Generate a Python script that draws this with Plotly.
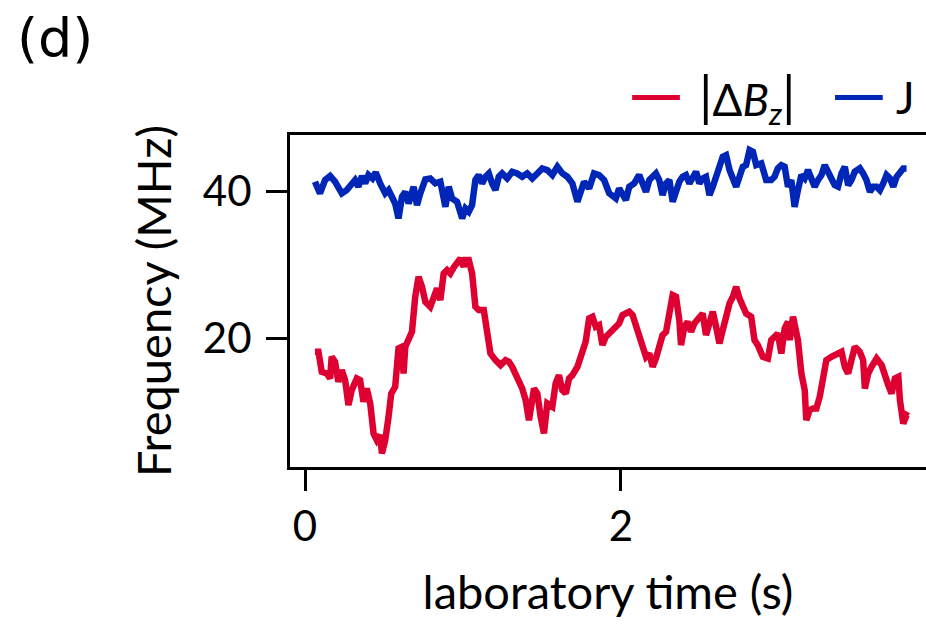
import plotly.graph_objects as go

# Exchange coupling J (MHz) versus laboratory time (s)
t_j = [0.063, 0.095, 0.127, 0.159, 0.190, 0.233, 0.264, 0.296, 0.317, 0.338,
       0.360, 0.381, 0.402, 0.427, 0.448, 0.476, 0.508, 0.529, 0.550, 0.571,
       0.592, 0.614, 0.635, 0.656, 0.688, 0.709, 0.730, 0.762, 0.793, 0.825,
       0.857, 0.889, 0.910, 0.931, 0.963, 0.995, 1.016, 1.037, 1.058, 1.079,
       1.100, 1.121, 1.143, 1.164, 1.185, 1.206, 1.227, 1.248, 1.280, 1.312,
       1.344, 1.375, 1.407, 1.439, 1.471, 1.502, 1.534, 1.566, 1.598, 1.630,
       1.661, 1.693, 1.725, 1.746, 1.767, 1.799, 1.830, 1.862, 1.894, 1.926,
       1.947, 1.968, 1.989, 2.010, 2.032, 2.053, 2.084, 2.116, 2.137, 2.159,
       2.180, 2.201, 2.222, 2.243, 2.264, 2.286, 2.307, 2.328, 2.349, 2.370,
       2.391, 2.412, 2.434, 2.455, 2.476, 2.497, 2.518, 2.539, 2.561, 2.582,
       2.603, 2.624, 2.645, 2.666, 2.688, 2.709, 2.730, 2.751, 2.772, 2.793,
       2.815, 2.836, 2.857, 2.889, 2.920, 2.952, 2.973, 2.994, 3.016, 3.037,
       3.058, 3.079, 3.100, 3.121, 3.143, 3.164, 3.185, 3.206, 3.227, 3.248,
       3.270, 3.291, 3.312, 3.333, 3.354, 3.375, 3.397, 3.418, 3.439, 3.460,
       3.481, 3.513, 3.534, 3.555, 3.577, 3.598, 3.619, 3.640, 3.661, 3.682,
       3.704, 3.725, 3.746, 3.767, 3.788, 3.809]
j_mhz = [41.37, 39.78, 41.60, 42.14, 41.37, 39.78, 40.23, 40.91, 41.60, 40.69,
         42.14, 41.14, 42.28, 41.82, 42.64, 41.14, 39.78, 40.23, 39.32, 38.41,
         36.37, 39.32, 40.00, 38.41, 40.69, 38.19, 39.78, 41.69, 41.82, 41.14,
         41.37, 37.96, 40.69, 39.10, 38.64, 36.37, 37.73, 37.28, 38.19, 41.60,
         42.28, 41.14, 42.05, 42.50, 41.14, 40.23, 42.05, 42.50, 41.82, 42.73,
         42.50, 42.05, 42.50, 41.82, 42.50, 43.19, 42.96, 42.28, 43.41, 42.50,
         42.05, 41.14, 38.64, 40.23, 41.37, 40.46, 42.50, 42.28, 41.60, 39.80,
         39.55, 39.10, 40.46, 39.78, 38.87, 40.69, 41.14, 42.28, 41.14, 40.00,
         41.60, 42.05, 42.50, 41.60, 39.55, 41.14, 41.60, 38.64, 40.23, 41.37,
         42.05, 42.28, 41.14, 42.05, 42.73, 41.14, 41.82, 42.05, 39.55, 40.69,
         42.50, 43.41, 44.78, 45.00, 42.96, 42.05, 40.69, 42.05, 43.41, 43.64,
         45.69, 45.46, 43.64, 43.87, 41.60, 41.60, 42.05, 43.19, 43.64, 43.41,
         40.69, 41.60, 37.96, 40.23, 42.28, 41.82, 42.96, 41.82, 40.69, 41.60,
         42.28, 43.64, 42.50, 41.82, 40.91, 40.69, 42.50, 43.41, 40.91, 41.60,
         42.73, 43.19, 42.50, 41.60, 40.00, 40.69, 40.69, 40.23, 41.14, 42.28,
         41.82, 40.69, 42.05, 42.73, 43.19, 43.19]

# Magnitude of the Zeeman energy difference |ΔBz| (MHz) versus laboratory time (s)
t_bz = [0.063, 0.085, 0.106, 0.137, 0.159, 0.169, 0.190, 0.211, 0.233, 0.254,
        0.275, 0.296, 0.328, 0.349, 0.370, 0.391, 0.413, 0.434, 0.455, 0.476,
        0.487, 0.508, 0.529, 0.546, 0.571, 0.592, 0.614, 0.624, 0.635, 0.656,
        0.677, 0.698, 0.719, 0.741, 0.762, 0.793, 0.815, 0.836, 0.857, 0.878,
        0.899, 0.920, 0.942, 0.963, 0.984, 1.005, 1.016, 1.037, 1.058, 1.079,
        1.100, 1.132, 1.153, 1.174, 1.206, 1.238, 1.270, 1.291, 1.312, 1.333,
        1.354, 1.375, 1.397, 1.418, 1.450, 1.471, 1.492, 1.513, 1.534, 1.566,
        1.587, 1.608, 1.629, 1.651, 1.672, 1.693, 1.725, 1.756, 1.777, 1.799,
        1.820, 1.841, 1.862, 1.883, 1.905, 1.926, 1.947, 1.968, 1.989, 2.010,
        2.032, 2.053, 2.074, 2.095, 2.116, 2.137, 2.159, 2.180, 2.201, 2.222,
        2.243, 2.264, 2.286, 2.307, 2.328, 2.349, 2.370, 2.381, 2.402, 2.423,
        2.444, 2.465, 2.487, 2.518, 2.539, 2.561, 2.582, 2.603, 2.624, 2.645,
        2.666, 2.688, 2.709, 2.730, 2.751, 2.772, 2.793, 2.825, 2.846, 2.867,
        2.899, 2.931, 2.952, 2.973, 2.994, 3.016, 3.037, 3.058, 3.069, 3.090,
        3.111, 3.121, 3.143, 3.164, 3.174, 3.195, 3.217, 3.238, 3.259, 3.280,
        3.301, 3.333, 3.365, 3.397, 3.418, 3.439, 3.460, 3.481, 3.513, 3.534,
        3.545, 3.566, 3.587, 3.619, 3.651, 3.672, 3.693, 3.714, 3.735, 3.757,
        3.767, 3.788, 3.809, 3.820]
bz_mhz = [18.19, 18.19, 15.46, 15.23, 14.55, 17.50, 16.82, 14.10, 15.69, 14.32,
          10.91, 12.96, 14.55, 14.32, 11.37, 13.19, 11.14, 7.05, 6.14, 6.82,
          4.32, 6.14, 9.32, 12.50, 13.41, 18.64, 18.87, 15.23, 18.87, 19.78,
          20.91, 25.69, 28.41, 27.05, 25.00, 24.32, 25.69, 26.82, 25.23, 28.87,
          29.32, 28.87, 29.70, 30.23, 30.91, 29.78, 30.69, 30.69, 28.87, 24.32,
          23.87, 23.87, 20.69, 17.96, 17.05, 16.37, 17.05, 16.82, 16.14, 15.23,
          13.87, 13.19, 11.60, 8.87, 13.19, 12.50, 9.32, 7.05, 11.14, 10.69,
          13.87, 15.00, 12.96, 12.50, 14.55, 15.00, 16.14, 17.96, 19.55, 22.73,
          22.96, 21.60, 21.82, 19.10, 20.23, 20.69, 21.14, 21.60, 22.05, 23.19,
          23.41, 23.64, 23.19, 21.82, 20.23, 18.64, 17.50, 17.96, 16.14, 17.28,
          19.32, 20.46, 20.91, 23.41, 25.91, 25.69, 22.50, 19.10, 21.60, 22.28,
          20.91, 22.05, 22.50, 23.41, 20.46, 22.50, 23.64, 21.60, 19.32, 21.14,
          23.41, 24.78, 25.69, 27.05, 25.46, 24.55, 23.41, 22.96, 19.78, 19.10,
          17.50, 17.28, 19.78, 20.23, 20.69, 17.96, 21.37, 22.28, 19.78, 22.96,
          21.14, 19.78, 15.23, 12.96, 8.87, 10.23, 10.46, 10.46, 12.05, 15.23,
          17.05, 17.50, 17.96, 18.19, 16.14, 15.23, 17.05, 18.87, 18.19, 17.05,
          13.19, 15.23, 16.14, 17.28, 16.37, 14.78, 13.64, 12.50, 14.55, 14.78,
          11.60, 8.41, 9.55, 9.41]

x_ticks = [0, 2]
y_ticks = [20, 40]

series_names = [
    "<span style='font-size:54px'>|</span>Δ<i>B</i><sub><i>z</i></sub>"
    "<span style='font-size:54px'>|</span>",
    "J",
]

RED = "#DE0030"
BLUE = "#0026B8"
FONT = "Lato"

fig = go.Figure()
fig.add_trace(go.Scatter(
    x=t_bz, y=bz_mhz, mode="lines", name="|ΔBz|",
    line=dict(color=RED, width=6.5), showlegend=False,
))
fig.add_trace(go.Scatter(
    x=t_j, y=j_mhz, mode="lines", name="J",
    line=dict(color=BLUE, width=6.5), showlegend=False,
))

axis_common = dict(
    showgrid=False, zeroline=False, showline=True, linecolor="black",
    linewidth=3, ticks="outside", ticklen=21, tickwidth=3, tickcolor="black",
    tickfont=dict(family=FONT, size=42, color="black"),
)

fig.update_xaxes(
    **axis_common, range=[-0.095, 3.932], tickvals=x_ticks, mirror=True,
    ticklabelstandoff=0,
    title=dict(text="laboratory time (s)", font=dict(family=FONT, size=47, color="black"),
               standoff=27),
)
fig.update_yaxes(
    **axis_common, range=[2.48, 47.74], tickvals=y_ticks, mirror=False,
    ticklabelstandoff=6,
    title=dict(text="Frequency (MHz)", font=dict(family=FONT, size=47, color="black"),
               standoff=17),
)

# Panel label
fig.add_annotation(
    text="(d)", xref="paper", yref="paper", x=-0.432, y=1.29,
    xanchor="left", yanchor="middle", showarrow=False,
    font=dict(family="DejaVu Sans", size=54, color="black"),
)

# Legend row above the axes: a short line sample followed by its label
legend_y = 1.113
legend_items = [
    (series_names[0], RED, 0.538, 0.613, 0.640),
    (series_names[1], BLUE, 0.857, 0.932, 0.950),
]
for label, color, x0, x1, xt in legend_items:
    fig.add_shape(type="line", xref="paper", yref="paper",
                  x0=x0, x1=x1, y0=legend_y, y1=legend_y,
                  line=dict(color=color, width=5))
    fig.add_annotation(
        text=label, xref="paper", yref="paper", x=xt, y=legend_y,
        xanchor="left", yanchor="middle", showarrow=False,
        font=dict(family=FONT, size=44, color="black"),
    )

fig.update_layout(
    width=926, height=624, autosize=False,
    margin=dict(l=290, r=0, t=135, b=157, pad=0),
    plot_bgcolor="white", paper_bgcolor="white",
    showlegend=False,
)

fig.write_html("out.html")
